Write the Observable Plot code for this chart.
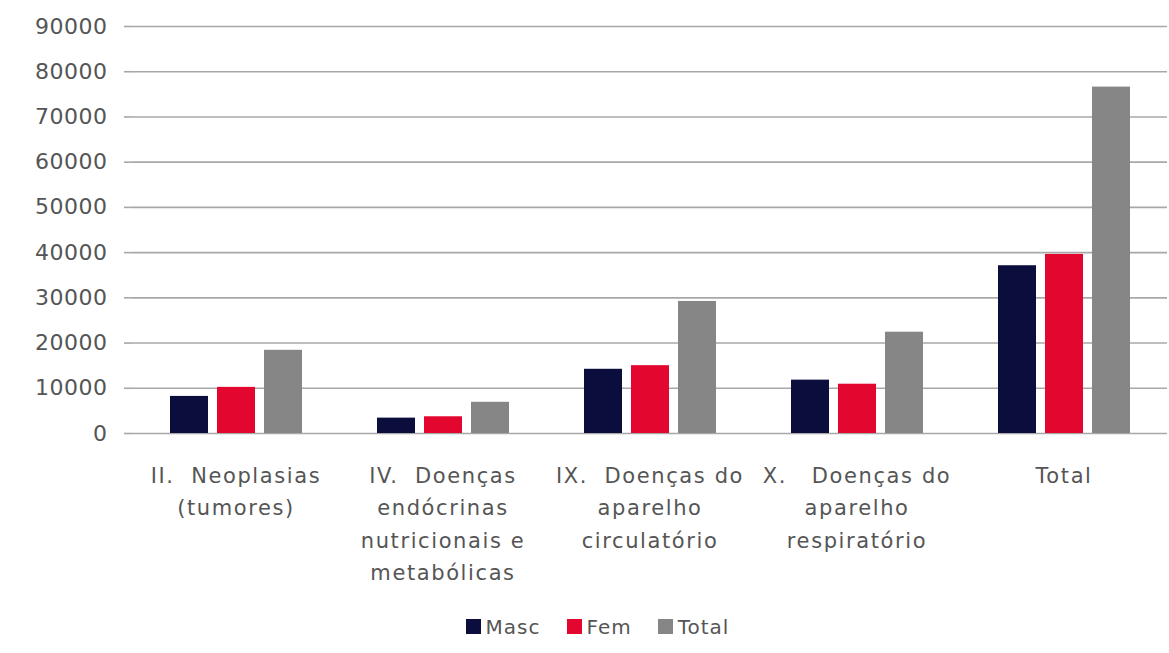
<!DOCTYPE html>
<html>
<head>
<meta charset="utf-8">
<script src="https://cdn.jsdelivr.net/npm/d3@7"></script>
<script src="https://cdn.jsdelivr.net/npm/@observablehq/plot@0.6"></script>
<style>
  body { margin: 0; background: #fff; font-family: "DejaVu Sans", sans-serif; }
  #chart { width: 1169px; }
  #chart g[aria-label="fx-axis tick label"] text { letter-spacing: 1.6px; }
  #chart g[aria-label="y-axis tick label"] text { letter-spacing: 0.5px; }
  #legend { width: 1169px; height: 53px; display: flex; justify-content: center; align-items: center; padding-left: 52px; box-sizing: border-box; }
  #legend > div { justify-content: center !important; margin: 0 !important; min-height: 0 !important; letter-spacing: 1px; }
  #legend > div > span { margin-right: 26px !important; }
  #legend svg { margin-right: 5px !important; }
</style>
</head>
<body>
<div id="chart"></div>
<div id="legend"></div>
<script>
// Internações por grupo de causas (capítulos CID-10), por sexo
const categories = ["II", "IV", "IX", "X", "Total"];
const categoryLabels = [
  "II.\u00a0\u00a0Neoplasias\n(tumores)",
  "IV.\u00a0\u00a0Doenças\nendócrinas\nnutricionais e\nmetabólicas",
  "IX.\u00a0\u00a0Doenças do\naparelho\ncirculatório",
  "X.\u00a0\u00a0\u00a0Doenças do\naparelho\nrespiratório",
  "Total"
];
const series = ["Masc", "Fem", "Total"];
const masc  = [8200, 3400, 14200, 11800, 37100];
const fem   = [10200, 3700, 15000, 10900, 39600];
const total = [18400, 6900, 29200, 22400, 76600];
const yTicks = [0, 10000, 20000, 30000, 40000, 50000, 60000, 70000, 80000, 90000];
const colors = ["#0b0d3d", "#e3062f", "#868686"];

const rows = categories.flatMap((c, i) => [
  {category: c, series: "Masc", value: masc[i]},
  {category: c, series: "Fem", value: fem[i]},
  {category: c, series: "Total", value: total[i]}
]);
const labelOf = new Map(categories.map((c, i) => [c, categoryLabels[i]]));

const W = 1169, ML = 130;
const facetWidth = (W - ML) / categories.length;

const chart = Plot.plot({
  width: W,
  height: 600,
  marginTop: 26,
  marginBottom: 167,
  marginLeft: ML,
  marginRight: 0,
  style: {fontFamily: "DejaVu Sans", fontSize: "20px", color: "#595959", background: "#fff"},
  fx: {domain: categories, padding: 0, label: null},
  x: {domain: series, paddingInner: 0.2, paddingOuter: 0.8, axis: null},
  y: {domain: [0, 90000], label: null},
  color: {domain: series, range: colors},
  marks: [
    // horizontal grid across every facet
    Plot.ruleY(yTicks, {stroke: "#a8a8a8", strokeWidth: 1.6}),
    // short stub of the grid reaching left of the first group
    Plot.ruleY(yTicks, {stroke: "#a8a8a8", strokeWidth: 1.6, facetAnchor: "left", insetLeft: -8, insetRight: facetWidth - 1}),
    Plot.barY(rows, {fx: "category", x: "series", y: "value", fill: "series"}),
    Plot.axisY(yTicks, {tickSize: 0, tickPadding: 25, fontSize: 22, fill: "#555", tickFormat: d => String(d), label: null}),
    Plot.axisFx({anchor: "bottom", tickSize: 0, tickPadding: 26, fontSize: 21, lineHeight: 1.55, fill: "#555", tickFormat: d => labelOf.get(d), label: null})
  ]
});
document.getElementById("chart").append(chart);

const legend = Plot.legend({
  color: {domain: series, range: colors},
  legend: "swatches",
  swatchSize: 15,
  style: {fontFamily: "DejaVu Sans", fontSize: "20px", color: "#555"}
});
document.getElementById("legend").append(legend);
</script>
</body>
</html>
